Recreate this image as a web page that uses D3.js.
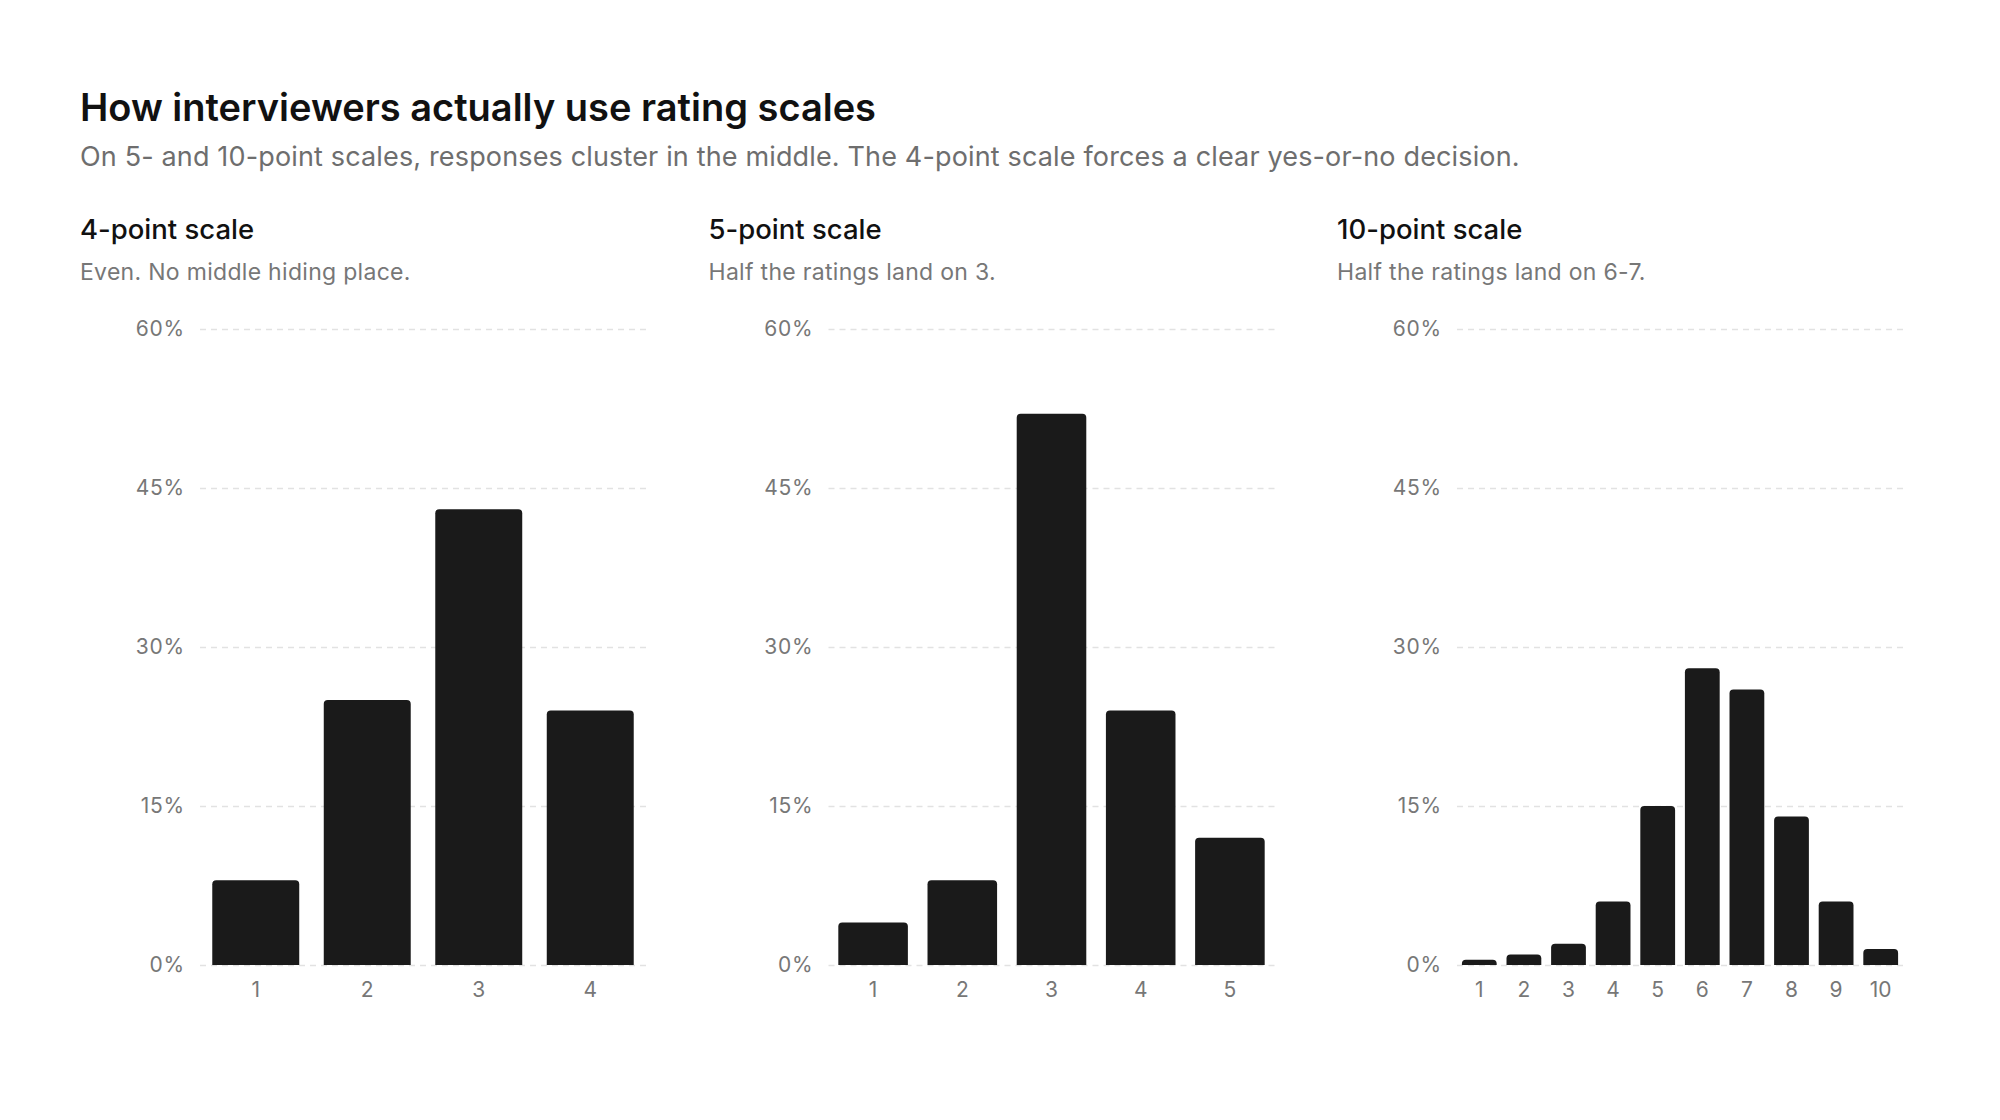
<!DOCTYPE html>
<html><head><meta charset="utf-8">
<script src="https://cdn.jsdelivr.net/npm/d3@7"></script>
<style>
html,body{margin:0;padding:0;background:#fff;}
svg{display:block;font-family:Inter,"Noto Sans",sans-serif;}
</style></head>
<body>
<svg id="chart" width="2000" height="1120"></svg>
<script>
const title = "How interviewers actually use rating scales";
const subtitle = "On 5- and 10-point scales, responses cluster in the middle. The 4-point scale forces a clear yes-or-no decision.";
const panelTitles = ["4-point scale", "5-point scale", "10-point scale"];
const panelNotes = ["Even. No middle hiding place.", "Half the ratings land on 3.", "Half the ratings land on 6-7."];
const cats4 = ["1","2","3","4"];
const vals4 = [8,25,43,24];
const cats5 = ["1","2","3","4","5"];
const vals5 = [4,8,52,24,12];
const cats10 = ["1","2","3","4","5","6","7","8","9","10"];
const vals10 = [0.5,1,2,6,15,28,26,14,6,1.5];
const yTicks = [0,15,30,45,60];

const panels = [
  {cats:cats4, vals:vals4},
  {cats:cats5, vals:vals5},
  {cats:cats10, vals:vals10}
];

const svg = d3.select("#chart");
svg.append("text").attr("x",80).attr("y",121)
  .attr("font-size",38).attr("font-weight",600).attr("fill","#111").text(title);
svg.append("text").attr("x",80).attr("y",166)
  .attr("font-size",27).attr("letter-spacing","0.15").attr("fill","#6e6e6e").text(subtitle);

const y = d3.scaleLinear().domain([0,60]).range([965,329]);

function topRounded(x0,y0,w,h,r){
  r=Math.min(r,w/2,h);
  return `M${x0},${y0+h}V${y0+r}Q${x0},${y0} ${x0+r},${y0}H${x0+w-r}Q${x0+w},${y0} ${x0+w},${y0+r}V${y0+h}Z`;
}

panels.forEach((p,i)=>{
  const left = 80 + 628.5*i;
  const g = svg.append("g");
  g.append("text").attr("x",left).attr("y",239)
    .attr("font-size",27.5).attr("font-weight",500).attr("fill","#111").text(panelTitles[i]);
  g.append("text").attr("x",left).attr("y",280)
    .attr("font-size",23).attr("letter-spacing","0.3").attr("fill","#777").text(panelNotes[i]);

  const x0 = left+120, x1 = left+566;
  const x = d3.scaleBand().domain(p.cats).range([x0,x1]).paddingInner(0.22).paddingOuter(0.11);

  const yAxis = d3.axisLeft(y).tickValues(yTicks).tickSize(-(x1-x0)).tickFormat(d=>d+"%");
  const ga = g.append("g").attr("transform",`translate(${x0},0)`).call(yAxis);
  ga.select(".domain").remove();
  ga.selectAll(".tick line").attr("stroke","#e2e2e2").attr("stroke-width",1.5).attr("stroke-dasharray","6,5");
  ga.selectAll(".tick text").attr("x",-15).attr("font-size",21).attr("fill","#777")
    .attr("font-family","Inter,'Noto Sans',sans-serif").attr("letter-spacing","0.8");

  g.selectAll("path.bar").data(p.vals).enter().append("path").attr("class","bar")
    .attr("d",(d,j)=>topRounded(x(p.cats[j]), y(d), x.bandwidth(), y(0)-y(d), 4))
    .attr("fill","#1a1a1a");

  const xAxis = d3.axisBottom(x).tickSize(0).tickPadding(0);
  const gx = g.append("g").attr("transform",`translate(0,${y(0)})`).call(xAxis);
  gx.select(".domain").remove();
  gx.selectAll(".tick text").attr("y",32).attr("dy",0).attr("font-size",21).attr("fill","#777")
    .attr("font-family","Inter,'Noto Sans',sans-serif");
});
</script>
</body></html>
